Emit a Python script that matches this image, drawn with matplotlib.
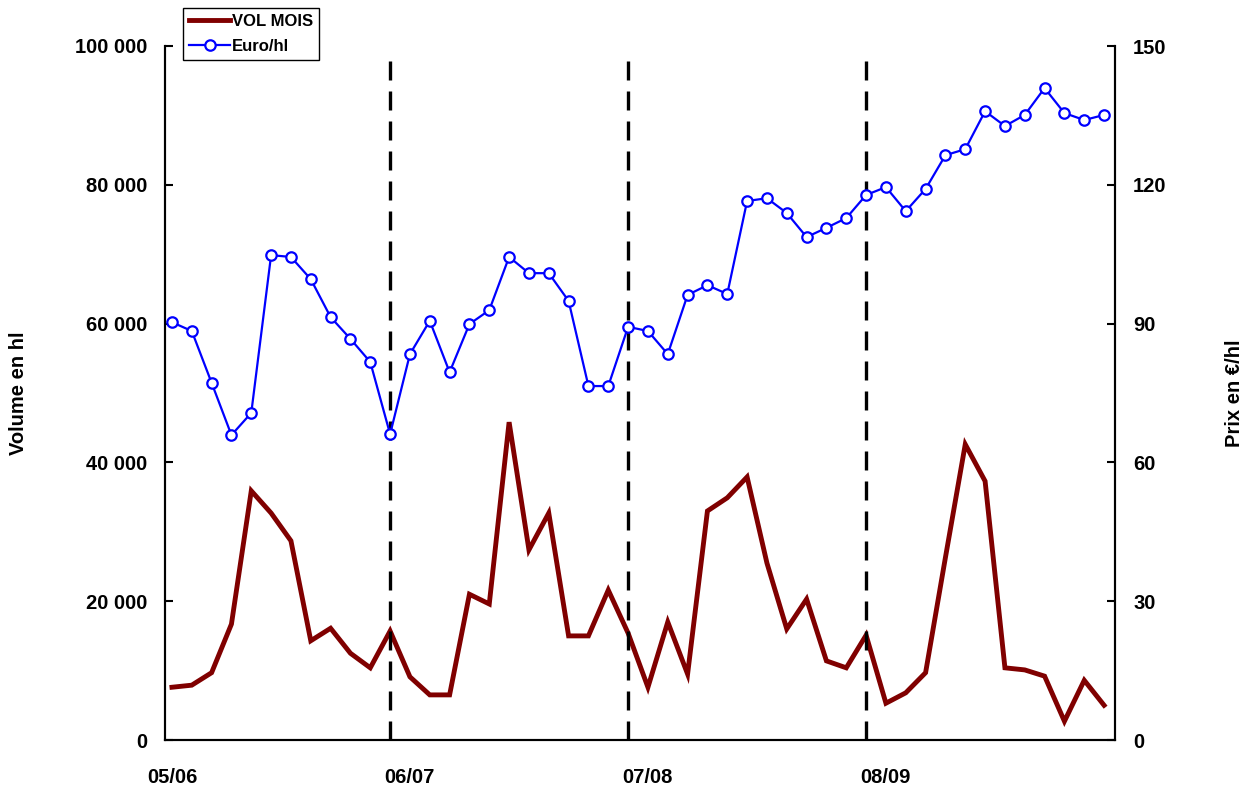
import numpy as np
import matplotlib
matplotlib.use("Agg")
import matplotlib.pyplot as plt
from matplotlib.ticker import FuncFormatter

# volumes mensuels (hl) et prix (euro/hl), campagnes 05/06 -> 08/09
vol_mois = [7600, 7900, 9700, 16700, 35900, 32700, 28700, 14300, 16100, 12500, 10400, 15700,
            9100, 6500, 6500, 21000, 19600, 45800, 27400, 32700, 15000, 15000, 21600, 15400,
            7600, 17000, 9500, 33000, 34900, 37900, 25500, 16000, 20300, 11400, 10400, 15100,
            5300, 6800, 9700, 26300, 42600, 37300, 10400, 10100, 9200, 2700, 8600, 5000]
euro_hl = [90.3, 88.4, 77.2, 65.9, 70.7, 104.8, 104.4, 99.6, 91.4, 86.7, 81.7, 66.1,
           83.4, 90.6, 79.5, 89.9, 92.9, 104.4, 100.9, 100.9, 94.9, 76.5, 76.5, 89.3,
           88.4, 83.4, 96.2, 98.3, 96.4, 116.5, 117.1, 113.9, 108.7, 110.7, 112.8, 117.8,
           119.5, 114.3, 119.1, 126.4, 127.7, 135.9, 132.7, 135.1, 140.9, 135.5, 134.0, 135.1]
campagnes = ["05/06", "06/07", "07/08", "08/09"]
debut_campagne = [0, 12, 24, 36]
fin_campagne = [11, 23, 35]

plt.rcParams['font.family'] = ['Liberation Sans', 'DejaVu Sans']

fig = plt.figure(figsize=(12.42, 7.89), dpi=100)
ax = fig.add_axes([165 / 1242, 1 - 740 / 789, 950 / 1242, 694 / 789])
ax2 = ax.twinx()

x = np.arange(len(vol_mois))

l1, = ax.plot(x, vol_mois, color="#800000", lw=3.5, label="VOL MOIS", solid_joinstyle="miter")
for xv in fin_campagne:
    ax.vlines(xv, 0, 98500, colors="black", lw=2.4, linestyles=(0, (5.7, 3.3)), zorder=3)

l2, = ax2.plot(x, euro_hl, color="#0000FF", lw=1.6, marker="o", markersize=7.5,
               markerfacecolor="white", markeredgecolor="#0000FF", markeredgewidth=1.6,
               label="Euro/hl")

ax.set_xlim(-0.35, 47.55)
ax.set_ylim(0, 100000)
ax2.set_ylim(0, 150)
ax.set_yticks(np.arange(0, 100001, 20000))
ax2.set_yticks(np.arange(0, 151, 30))
ax.yaxis.set_major_formatter(FuncFormatter(lambda v, p: f"{int(v):,}".replace(",", " ")))

ax.set_xticks(debut_campagne)
ax.set_xticklabels(campagnes)

for a in (ax, ax2):
    a.spines["top"].set_visible(False)
    for s in a.spines.values():
        s.set_linewidth(1.5)
ax.tick_params(axis="x", length=0, pad=20, labelsize=14.5)
ax.tick_params(axis="y", direction="in", length=6, width=1.5, pad=13, labelsize=14.5)
ax2.tick_params(axis="y", direction="in", length=6, width=1.5, pad=13, labelsize=14.5)
for lab in ax.get_xticklabels() + ax.get_yticklabels() + ax2.get_yticklabels():
    lab.set_fontweight("bold")

ax.set_ylabel("Volume en hl", fontsize=14.5, fontweight="bold")
ax.yaxis.set_label_coords(-0.144, 0.5)
ax2.set_ylabel("Prix en €/hl", fontsize=14.5, fontweight="bold")
ax2.yaxis.set_label_coords(1.116, 0.5)

leg = fig.legend([l1, l2], ["VOL MOIS", "Euro/hl"], loc="upper left",
                 bbox_to_anchor=(183 / 1242, 1 - 8 / 789), bbox_transform=fig.transFigure,
                 fancybox=False, edgecolor="black", framealpha=1, borderaxespad=0,
                 prop={"weight": "bold", "size": 12}, handlelength=2.5,
                 handletextpad=0.1, borderpad=0.35, labelspacing=0.6)
leg.get_frame().set_linewidth(1.0)

fig.savefig("out.png", dpi=100)
